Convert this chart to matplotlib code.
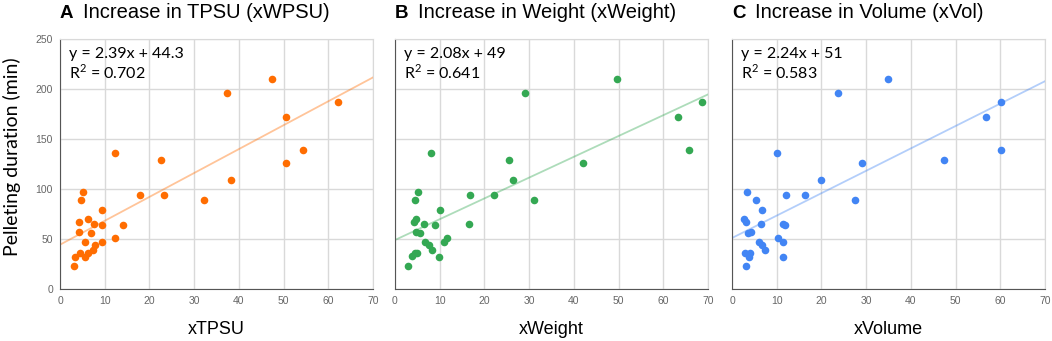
import numpy as np
import matplotlib.pyplot as plt

plt.rcParams["mathtext.fontset"] = "custom"
plt.rcParams["mathtext.rm"] = "Lato"

# pelleting duration (min), same samples in all three panels
duration = [23, 32, 36, 32, 36, 39, 44, 47, 47, 57, 56, 67, 70, 65, 64, 79,
            89, 97, 51, 64, 136, 94, 94, 129, 89, 109, 196, 210, 172, 126, 139, 187]

x_tpsu = [3.1, 3.3, 4.5, 5.6, 6.3, 7.4, 7.8, 9.4, 5.6, 4.3, 6.9, 4.3, 6.2, 7.5, 9.4, 9.5,
          4.7, 5.1, 12.4, 14.2, 12.4, 17.8, 23.2, 22.5, 32.2, 38.3, 37.3, 47.4, 50.5, 50.6, 54.4, 62.2]

dur_w = [23, 33, 36, 36, 32, 39, 44, 47, 47, 51, 57, 56, 67, 70, 65, 64,
         79, 89, 97, 65, 136, 94, 94, 129, 109, 89, 196, 126, 210, 172, 139, 187]
x_weight = [2.8, 3.9, 4.4, 5.0, 9.8, 8.2, 7.7, 6.6, 11.0, 11.7, 4.6, 5.6, 4.3, 4.7, 6.4, 9.0,
            10.1, 4.4, 5.1, 16.6, 8.1, 16.7, 22.2, 25.5, 26.4, 31.1, 29.0, 42.1, 49.7, 63.4, 65.7, 68.7]

dur_v = [23, 36, 36, 32, 32, 39, 44, 47, 51, 47, 56, 57, 70, 67, 65, 65,
         64, 79, 89, 97, 94, 94, 136, 109, 89, 126, 196, 210, 129, 172, 139, 187]
x_volume = [3.2, 2.8, 4.0, 3.9, 11.3, 7.4, 6.7, 6.1, 10.2, 11.4, 3.5, 4.3, 2.6, 3.2, 6.5, 11.5,
            11.9, 6.8, 5.3, 3.3, 12.1, 16.3, 10.0, 20.0, 27.6, 29.1, 23.6, 34.9, 47.5, 56.8, 60.1, 60.2]

letters = ["A", "B", "C"]
titles = ["Increase in TPSU (xWPSU)", "Increase in Weight (xWeight)", "Increase in Volume (xVol)"]
xlabels = ["xTPSU", "xWeight", "xVolume"]
slopes = [2.39, 2.08, 2.24]
intercepts = [44.3, 49, 51]
r2 = ["0.702", "0.641", "0.583"]
colors = ["#ff6d01", "#34a853", "#4285f4"]

xs = [x_tpsu, x_weight, x_volume]
ys = [duration, dur_w, dur_v]

W, H = 1052, 341
fig = plt.figure(figsize=(W / 100, H / 100), dpi=100)

lefts = [60, 395, 732]
for i in range(3):
    ax = fig.add_axes([lefts[i] / W, 52 / H, 313 / W, 250 / H])
    ax.set_xlim(0, 70)
    ax.set_ylim(0, 250)
    ax.set_xticks(range(0, 71, 10))
    ax.set_yticks(range(0, 251, 50))
    ax.grid(True, color="#d9d9d9", lw=1)
    ax.set_axisbelow(True)
    for s in ["top", "right"]:
        ax.spines[s].set_color("#d9d9d9")
    for s in ["left", "bottom"]:
        ax.spines[s].set_color("#555555")
    ax.tick_params(length=0, labelsize=7.5, labelcolor="#666666", pad=5)
    if i > 0:
        ax.set_yticklabels([])
    for lab in ax.get_xticklabels() + ax.get_yticklabels():
        lab.set_fontfamily("Liberation Sans")

    xx = np.array([0, 70])
    ax.plot(xx, slopes[i] * xx + intercepts[i], color=colors[i], alpha=0.4, lw=1.3, zorder=2)
    ax.scatter(xs[i], ys[i], s=30, color=colors[i], zorder=3, linewidths=0)

    x0 = (lefts[i] + 9) / W
    eq = "y = %sx + %s" % (slopes[i], intercepts[i])
    fig.text(x0, 1 - 58 / H, eq, ha="left", va="baseline", fontsize=11.5, family="Lato")
    fig.text(x0, 1 - 79 / H, "R$^{2}$ = " + r2[i], ha="left", va="baseline",
             fontsize=11.5, family="Lato")

    fig.text((lefts[i] + 156) / W, 1 - 330 / H, xlabels[i], fontsize=13,
             family="Liberation Sans", va="center", ha="center")

    fig.text((lefts[i]) / W, 1 - 13 / H, letters[i], fontsize=13.5, fontweight="bold",
             family="Liberation Sans", va="center", ha="left")
    fig.text((lefts[i] + 23) / W, 1 - 13 / H, titles[i], fontsize=14.5,
             family="Liberation Sans", va="center", ha="left")

fig.text(12 / W, 1 - 157 / H, "Pelleting duration (min)", rotation=90, fontsize=14,
         family="Lato", va="center", ha="center")

fig.savefig("out.png", dpi=100)
